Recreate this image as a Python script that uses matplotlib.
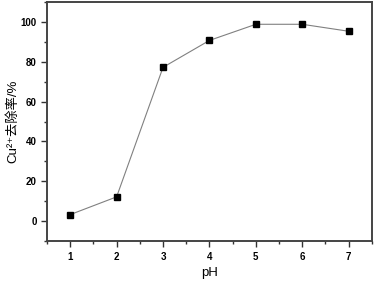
import matplotlib
matplotlib.use('Agg')
import matplotlib.pyplot as plt
from matplotlib.ticker import MultipleLocator

plt.rcParams['font.family'] = ['Liberation Sans', 'Noto Sans CJK SC', 'DejaVu Sans']

ph = [1, 2, 3, 4, 5, 6, 7]
removal = [3.3, 12.2, 77.2, 90.7, 98.8, 98.8, 95.3]

fig = plt.figure(figsize=(3.76, 2.81), dpi=100)
ax = fig.add_axes([0.125, 0.142, 0.864, 0.851])

ax.plot(ph, removal, color='#808080', linewidth=0.8,
        marker='s', markersize=5, markerfacecolor='black', markeredgecolor='black')

ax.set_xlim(0.5, 7.5)
ax.set_ylim(-10, 110)
ax.xaxis.set_major_locator(MultipleLocator(1))
ax.xaxis.set_minor_locator(MultipleLocator(0.5))
ax.yaxis.set_major_locator(MultipleLocator(20))
ax.yaxis.set_minor_locator(MultipleLocator(10))
ax.tick_params(which='both', direction='out', labelsize=7, width=1, color='#333333')
ax.tick_params(which='major', length=4)
ax.tick_params(which='minor', length=2)
for lab in ax.get_xticklabels() + ax.get_yticklabels():
    lab.set_fontweight('bold')
for s in ax.spines.values():
    s.set_linewidth(1.4)
    s.set_color('#444444')

ax.set_xlabel('pH', fontsize=9.5, labelpad=4)
ax.set_ylabel('Cu²⁺去除率/%', fontsize=9.5)
ax.yaxis.set_label_coords(-0.085, 0.5)

fig.savefig('out.png', dpi=100)
